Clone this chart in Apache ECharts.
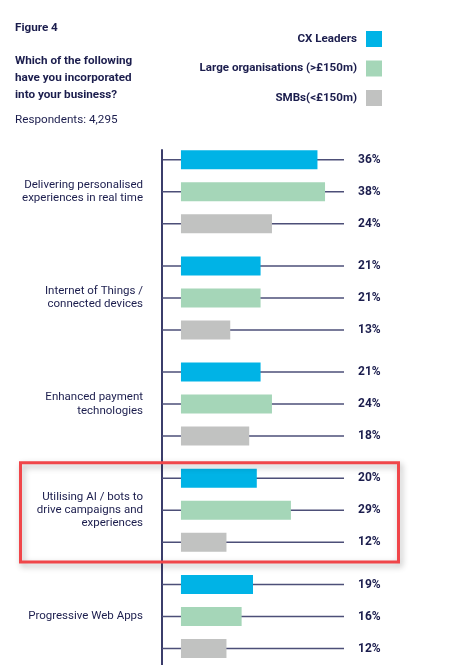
<!DOCTYPE html>
<html>
<head>
<meta charset="utf-8">
<script src="https://cdn.jsdelivr.net/npm/echarts@6/dist/echarts.min.js"></script>
<style>
html,body{margin:0;padding:0;background:#fff;}
#chart{width:463px;height:665px;}
</style>
</head>
<body>
<div id="chart"></div>
<script>
var categories = [
  'Delivering personalised\nexperiences in real time',
  'Internet of Things /\nconnected devices',
  'Enhanced payment\ntechnologies',
  'Utilising AI / bots to\ndrive campaigns and\nexperiences',
  'Progressive Web Apps'
];
var seriesNames = ['CX Leaders', 'Large organisations (>£150m)', 'SMBs(<£150m)'];
var cxLeaders = [36, 21, 21, 20, 19];
var largeOrgs = [38, 21, 24, 29, 16];
var smbs = [24, 13, 18, 12, 12];
var colors = ['#00b3e6', '#a5d6b8', '#c1c2c1'];
var highlightIndex = 3;

var AXIS_MIN = -5, AXIS_MAX = 43;
var BAR_W = 19, BAR_GAP = 13;
var FONT = 'Roboto, "Noto Sans", sans-serif';
var NAVY = '#1b1d4d';

var values = [cxLeaders, largeOrgs, smbs];

var chart = echarts.init(document.getElementById('chart'));

function makeLineSeries(k) {
  var offset = (k - 1) * (BAR_W + BAR_GAP);
  return {
    type: 'custom',
    name: 'line' + k,
    z: 1,
    silent: true,
    data: values[k].map(function (v, i) { return [v, i]; }),
    encode: { x: 0, y: 1 },
    renderItem: function (params, api) {
      var c = api.value(1);
      var p0 = api.coord([AXIS_MIN, c]);
      var p1 = api.coord([AXIS_MAX, c]);
      var y = p0[1] + offset;
      var children = [
        {
          type: 'line',
          shape: { x1: p0[0], y1: y, x2: p1[0], y2: y },
          style: { stroke: '#4d4f78', lineWidth: 1.5 }
        },
        {
          type: 'text',
          style: {
            x: p1[0] + 14, y: y,
            text: api.value(0) + '%',
            fill: NAVY,
            font: 'bold 12px ' + FONT,
            textAlign: 'left', textVerticalAlign: 'middle'
          }
        }
      ];
      // vertical axis line: from just above the first bar to the bottom of the grid
      if (k === 0 && params.dataIndex === 0) {
        var cs = params.coordSys;
        children.push({
          type: 'line',
          shape: { x1: p0[0], y1: y - BAR_W / 2 - 1, x2: p0[0], y2: cs.y + cs.height },
          style: { stroke: '#3b3d6b', lineWidth: 2 }
        });
      }
      return { type: 'group', children: children };
    }
  };
}

var barSeries = values.map(function (arr, k) {
  return {
    type: 'bar',
    name: seriesNames[k],
    data: arr,
    barWidth: BAR_W,
    barGap: (BAR_GAP / BAR_W * 100).toFixed(2) + '%',
    itemStyle: { color: colors[k] },
    z: 3,
    silent: true
  };
});

var option = {
  animation: false,
  textStyle: { fontFamily: FONT },
  title: [
    { text: 'Figure 4', left: 15, top: 22, padding: 0,
      textStyle: { fontSize: 11.7, fontWeight: 'bold', color: NAVY, fontFamily: FONT } },
    { text: 'Which of the following\nhave you incorporated\ninto your business?', left: 15, top: 53, padding: 0,
      textStyle: { fontSize: 11.7, fontWeight: 'bold', color: NAVY, lineHeight: 17, fontFamily: FONT } },
    { text: 'Respondents: 4,295', left: 15, top: 114, padding: 0,
      textStyle: { fontSize: 11.7, fontWeight: 'normal', color: NAVY, fontFamily: FONT } }
  ],
  legend: {
    data: seriesNames,
    orient: 'vertical',
    right: 76,
    top: 26,
    align: 'right',
    icon: 'rect',
    itemWidth: 16,
    itemHeight: 16,
    itemGap: 13.5,
    selectedMode: false,
    textStyle: { fontSize: 11.6, fontWeight: 'bold', color: NAVY, fontFamily: FONT, padding: [0, 4, 0, 0] }
  },
  grid: { left: 162, right: 119, top: 138.6, height: 531, outerBoundsMode: 'none', containLabel: false },
  xAxis: {
    type: 'value', min: AXIS_MIN, max: AXIS_MAX, show: false, splitLine: { show: false }
  },
  yAxis: {
    type: 'category',
    data: categories,
    inverse: true,
    axisTick: { show: false },
    axisLine: { show: false, onZero: false },
    axisLabel: { margin: 19, fontSize: 11.5, color: NAVY, lineHeight: 13.3, fontFamily: FONT, align: 'right' }
  },
  series: barSeries.concat([makeLineSeries(0), makeLineSeries(1), makeLineSeries(2)])
};

chart.setOption(option);

// highlight box around the selected category, positioned from the axis scale
var yc = chart.convertToPixel({ yAxisIndex: 0 }, categories[highlightIndex]);
var band = chart.convertToPixel({ yAxisIndex: 0 }, categories[highlightIndex + 1]) - yc;
var h = band - 7;
chart.setOption({
  graphic: [{
    type: 'rect',
    left: 18, top: yc - 0.5 - h / 2,
    shape: { width: 378, height: h },
    style: {
      fill: 'none', stroke: '#f0464a', lineWidth: 3,
      shadowBlur: 6, shadowColor: 'rgba(0,0,0,0.3)', shadowOffsetX: 2, shadowOffsetY: 3
    },
    z: 10, silent: true
  }]
});
</script>
</body>
</html>
